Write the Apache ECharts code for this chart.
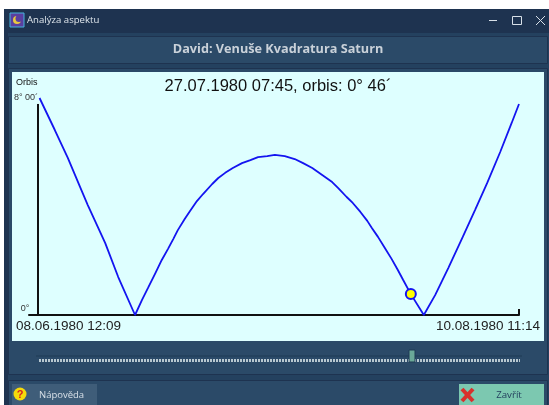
<!DOCTYPE html>
<html>
<head>
<meta charset="utf-8">
<title>Analýza aspektu</title>
<script src="https://cdn.jsdelivr.net/npm/echarts@6/dist/echarts.min.js"></script>
<style>
html, body { margin: 0; padding: 0; background: #fff; }
#main { width: 549px; height: 405px; }
</style>
</head>
<body>
<div id="main"></div>
<script>
var windowTitle = 'Analýza aspektu';
var heading = 'David: Venuše Kvadratura Saturn';
var current = '27.07.1980 07:45, orbis: 0° 46´';
var yName = 'Orbis';
var yTicks = ['8° 00´', '0°'];
var startLabel = '08.06.1980 12:09';
var endLabel = '10.08.1980 11:14';
var helpLabel = 'Nápověda';
var closeLabel = 'Zavřít';

// days since the first date, orbis in degrees
var days = [0.2, 2.2, 3.9, 5.5, 6.5, 8.8, 10.5, 12.7,
    13.6, 14.4, 15.3, 16.2, 17.0, 17.7, 18.3, 19.2, 19.9, 20.8, 21.6, 22.8, 23.6, 24.5, 25.5, 26.7, 27.8, 28.8, 30.0, 31.0,
    32.3, 33.6, 34.7, 35.9, 37.2, 38.5, 39.3, 40.4, 41.2, 42.2, 43.1, 43.7, 44.5, 45.4, 46.3, 47.1, 47.8, 48.8,
    50.5, 52.0, 53.7, 55.6, 57.2, 58.8, 60.5, 62.0, 62.96];
var orbis = [8.0, 6.82, 5.79, 4.72, 4.06, 2.65, 1.40, 0,
    0.55, 1.0, 1.51, 2.03, 2.43, 2.80, 3.13, 3.54, 3.83, 4.20, 4.46, 4.83, 5.05, 5.24, 5.42, 5.60, 5.71, 5.82, 5.86, 5.90,
    5.86, 5.75, 5.60, 5.42, 5.16, 4.90, 4.68, 4.35, 4.13, 3.80, 3.47, 3.21, 2.88, 2.47, 2.06, 1.66, 1.29, 0.77,
    0, 0.74, 1.73, 2.88, 3.87, 4.87, 6.01, 7.08, 7.78];
var marker = [48.8, 0.77];
var totalDays = 62.96;

var curve = days.map(function (d, i) { return [d, orbis[i]]; });

var dom = document.getElementById('main');
var myChart = echarts.init(dom);

function rect(x, y, w, h, fill, stroke) {
    return { type: 'rect', shape: { x: x, y: y, width: w, height: h, r: 0 }, style: { fill: fill, stroke: stroke || null, lineWidth: 1 }, z: -1 };
}
function line(x1, y1, x2, y2, color, width, dash) {
    return { type: 'line', shape: { x1: x1, y1: y1, x2: x2, y2: y2 }, style: { stroke: color, lineWidth: width, lineDash: dash || null }, z: -1 };
}
function label(x, y, text, font, color, align) {
    return { type: 'text', x: x, y: y, z: 5, style: { text: text, font: font, fill: color, align: align || 'left', verticalAlign: 'middle' } };
}

var chrome = [
    rect(4, 9, 545, 396, '#1e3350'),
    rect(8, 33, 541, 372, '#24415f'),
    rect(8.5, 36.5, 539, 27, '#2b4a68', '#1e3350'),
    rect(8.5, 68.5, 539, 306, '#2b4a68', '#1e3350'),
    rect(8.5, 380.5, 539, 26, '#2b4a68', '#1e3350'),
    rect(12, 72, 532, 269, '#deffff'),
    // title bar
    rect(10, 13, 14, 14, '#5a3fa0', '#45b4dc'),
    { type: 'circle', shape: { cx: 17, cy: 20, r: 4 }, style: { fill: '#e8c840' }, z: 1 },
    { type: 'circle', shape: { cx: 19, cy: 18.5, r: 3.5 }, style: { fill: '#5a3fa0' }, z: 2 },
    line(489, 20.5, 497, 20.5, '#d8e0e8', 1),
    { type: 'rect', shape: { x: 512.5, y: 16.5, width: 9, height: 8 }, style: { fill: null, stroke: '#d8e0e8', lineWidth: 1 } },
    line(536, 16, 545, 25, '#d8e0e8', 1),
    line(545, 16, 536, 25, '#d8e0e8', 1),
    // slider
    line(36, 356, 522, 356, '#1f3a55', 1),
    line(39, 360.5, 520, 360.5, '#b8c8d0', 3, [2, 1]),
    rect(409, 350, 6, 12, '#6aa898', '#1f3a55'),
    // buttons
    rect(12, 384, 85, 21, '#3f5d79'),
    { type: 'circle', shape: { cx: 20, cy: 394, r: 6.5 }, style: { fill: '#f5d90a' } },
    label(20, 394.5, '?', 'bold 11px "Liberation Sans"', '#d81f1f', 'center'),
    rect(459, 384, 85, 21, '#7cc8b0'),
    line(462, 389, 473, 401, '#d8302c', 4),
    line(473, 389, 462, 401, '#d8302c', 4),
    // texts
    label(27, 20, windowTitle, '9.6px "Open Sans"', '#dfe6ec'),
    label(278, 49.5, heading, 'bold 12.7px "Open Sans"', '#c9d1d9', 'center'),
    label(278, 86.5, current, '16.5px "Liberation Sans"', '#111', 'center'),
    label(16, 83, yName, '9px "Liberation Sans"', '#111'),
    label(26, 98, yTicks[0], '9px "Liberation Sans"', '#333', 'center'),
    label(25, 309, yTicks[1], '9px "Liberation Sans"', '#333', 'center'),
    label(16, 326, startLabel, '13.5px "Liberation Sans"', '#222'),
    label(540, 326, endLabel, '13.5px "Liberation Sans"', '#222', 'right'),
    label(39, 395, helpLabel, '9.5px "Open Sans"', '#d8e0e8'),
    label(509, 395, closeLabel, '9.7px "Open Sans"', '#24415f', 'center')
];

var option = {
    animation: false,
    backgroundColor: '#fff',
    grid: { left: 29, right: 30, top: 98, bottom: 90 },
    xAxis: {
        type: 'value',
        min: -1.18,
        max: totalDays,
        splitLine: { show: false },
        axisLine: { onZero: false, lineStyle: { color: '#111', width: 2 } },
        axisTick: { show: true, inside: true, length: 6, customValues: [totalDays], lineStyle: { color: '#111', width: 2 } },
        axisLabel: { show: false }
    },
    yAxis: {
        type: 'value',
        min: 0,
        max: 8,
        splitLine: { show: false },
        axisLine: { show: false },
        axisTick: { show: false },
        axisLabel: { show: false }
    },
    graphic: { elements: chrome },
    series: [{
        // vertical axis stops short of the top of the curve
        type: 'line',
        data: [[0, 0], [0, 7.78]],
        showSymbol: false,
        silent: true,
        lineStyle: { color: '#111', width: 2 },
        z: 1
    }, {
        type: 'line',
        data: curve,
        showSymbol: false,
        smooth: false,
        clip: false,
        lineStyle: { color: '#1414f0', width: 1.8 },
        z: 2
    }, {
        type: 'scatter',
        data: [marker],
        symbolSize: 10,
        itemStyle: { color: '#ffff00', borderColor: '#1414f0', borderWidth: 2, opacity: 1 },
        z: 3
    }]
};

myChart.setOption(option, true);
</script>
</body>
</html>
